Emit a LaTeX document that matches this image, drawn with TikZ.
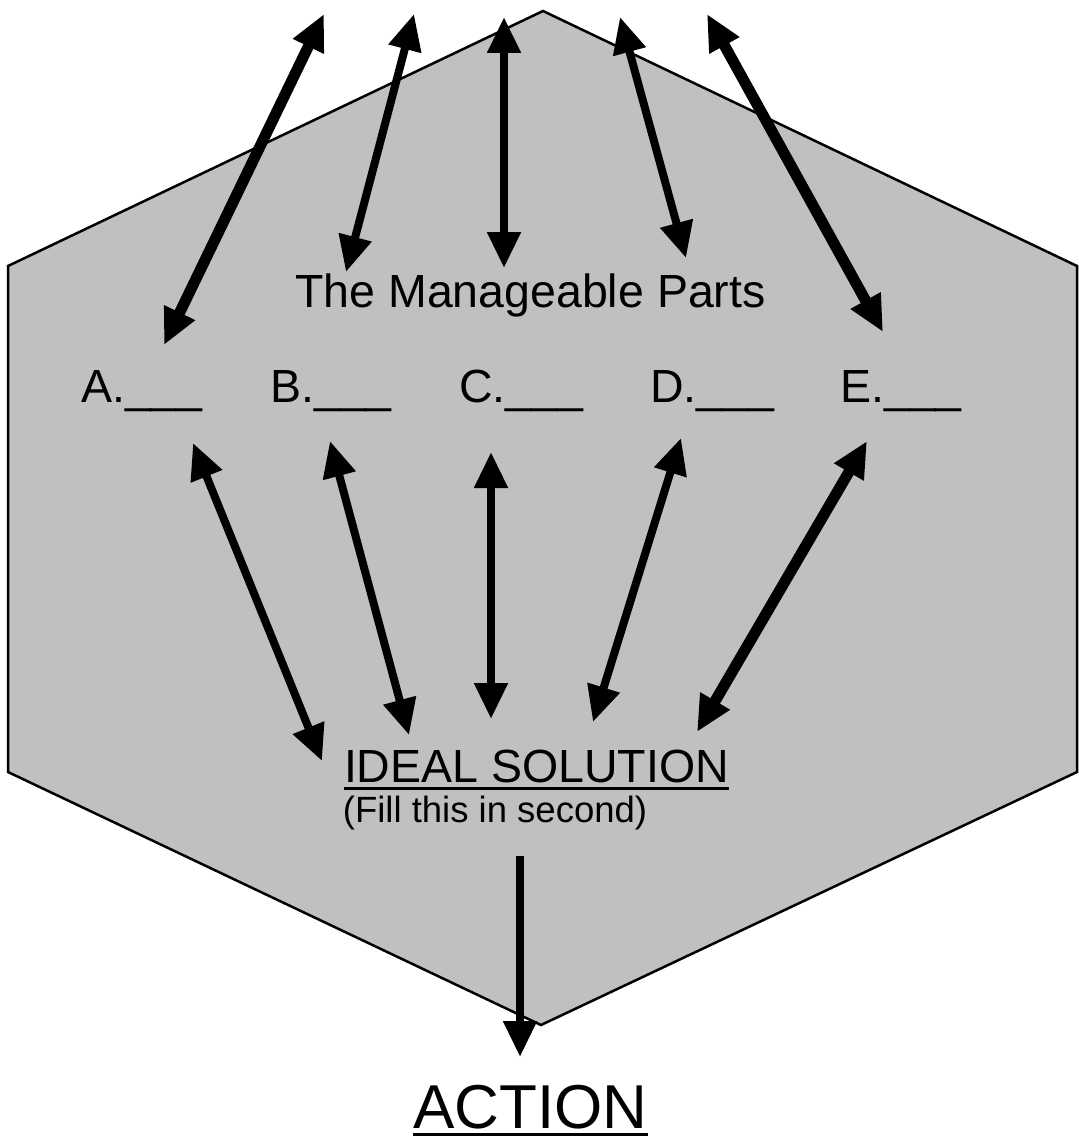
\documentclass[tikz,border=0pt]{standalone}
\usepackage{fontspec}
\setmainfont{Liberation Sans}
\usetikzlibrary{arrows.meta}
\definecolor{hexgray}{RGB}{192,192,192}
\begin{document}
\begin{tikzpicture}[x=1pt,y=-1pt,
  hexshape/.style={fill=hexgray, draw=black, line width=2.5pt, line join=miter},
  headtip/.tip={Triangle[length=36pt,width=32pt]},
  dblarrow/.style={line width=8pt, headtip-headtip},
  dblthick/.style={line width=11pt, headtip-headtip},
  onearrow/.style={line width=8pt, -headtip},
  bigtxt/.style={inner sep=0pt, font=\fontsize{46.5}{56}\selectfont},
  smalltxt/.style={inner sep=0pt, font=\fontsize{36.5}{44}\selectfont},
  hugetxt/.style={inner sep=0pt, font=\fontsize{62}{74}\selectfont},
  uline/.style={line width=3pt}
]
\useasboundingbox (0,0) rectangle (1078,1142);
% hexagon
\draw[hexshape] (543,11) -- (1077,266) -- (1077,772) -- (541,1025) -- (8,772) -- (8,266) -- cycle;

% top arrow end points
\coordinate (t1a) at (324,14);  \coordinate (t1b) at (164,345);
\coordinate (t2a) at (414,14);  \coordinate (t2b) at (346,272);
\coordinate (t3a) at (504,17);  \coordinate (t3b) at (504,268);
\coordinate (t4a) at (620,17);  \coordinate (t4b) at (686,258);
\coordinate (t5a) at (707,14);  \coordinate (t5b) at (883,332);
% lower arrow end points
\coordinate (b1a) at (193,443); \coordinate (b1b) at (322,761);
\coordinate (b2a) at (330,441); \coordinate (b2b) at (409,735);
\coordinate (b3a) at (491,452); \coordinate (b3b) at (491,719);
\coordinate (b4a) at (681,438); \coordinate (b4b) at (593,722);
\coordinate (b5a) at (867,441); \coordinate (b5b) at (697,732);
% action arrow
\coordinate (act0) at (520,856); \coordinate (act1) at (520,1057);

\draw[dblthick] (t1a) -- (t1b);
\draw[dblarrow] (t2a) -- (t2b);
\draw[dblarrow] (t3a) -- (t3b);
\draw[dblarrow] (t4a) -- (t4b);
\draw[dblthick] (t5a) -- (t5b);

\draw[dblarrow] (b1a) -- (b1b);
\draw[dblarrow] (b2a) -- (b2b);
\draw[dblarrow] (b3a) -- (b3b);
\draw[dblarrow] (b4a) -- (b4b);
\draw[dblthick] (b5a) -- (b5b);

\draw[onearrow] (act0) -- (act1);

% texts
\node[bigtxt, anchor=base] (parts) at (530.5,307) {The Manageable Parts};
\node[bigtxt, anchor=base west] (pa) at (81,402) {A.\_\_\_};
\node[bigtxt, anchor=base west] (pb) at (270,402) {B.\_\_\_};
\node[bigtxt, anchor=base west] (pc) at (459,402) {C.\_\_\_};
\node[bigtxt, anchor=base west] (pd) at (650,402) {D.\_\_\_};
\node[bigtxt, anchor=base west] (pe) at (840,402) {E.\_\_\_};

\node[bigtxt, anchor=base] (ideal) at (536.5,782) {IDEAL SOLUTION};
\draw[uline] ([yshift=-6pt]ideal.base west) -- ([yshift=-6pt]ideal.base east);
\node[smalltxt, anchor=base] (fillin) at (495,822) {(Fill this in second)};

\node[hugetxt, anchor=base] (action) at (530.5,1128) {ACTION};
\draw[uline, line width=3.5pt] ([yshift=-6.5pt]action.base west) -- ([yshift=-6.5pt]action.base east);
\end{tikzpicture}
\end{document}
